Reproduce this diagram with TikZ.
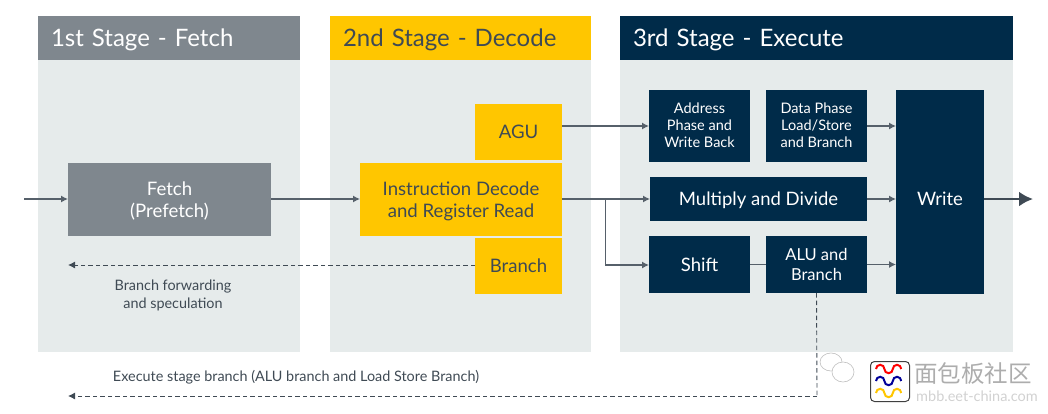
\documentclass[tikz,border=0pt]{standalone}
\usepackage{fontspec}
\setmainfont{Lato}
\newfontfamily\cjkwm{Noto Sans CJK SC}
\usetikzlibrary{arrows.meta,calc}
\definecolor{panelc}{HTML}{E6EBEB}
\definecolor{greyc}{HTML}{7F878E}
\definecolor{yellowc}{HTML}{FFC600}
\definecolor{navyc}{HTML}{002B49}
\definecolor{inkc}{HTML}{3F4A54}
\definecolor{linec}{HTML}{56606A}
\tikzset{
  x=1pt,y=-1pt,
  blockbase/.style={anchor=north west,inner sep=0pt,outer sep=0pt,align=center,text depth=0pt},
  panel/.style={blockbase,fill=panelc},
  head/.style={blockbase,text=white,font=\fontsize{24}{28}\selectfont,text height=21pt,text depth=5pt},
  greyblock/.style={blockbase,fill=greyc,text=white,text depth=-2pt,font=\fontsize{18.6}{22.5}\selectfont},
  yellowblock/.style={blockbase,fill=yellowc,text=inkc,text depth=-2pt,font=\fontsize{18.6}{22.5}\selectfont},
  navyblock/.style={blockbase,fill=navyc,text=white,font=\fontsize{18.5}{20}\selectfont},
  navysmall/.style={navyblock,text depth=2pt,font=\fontsize{14.5}{17.3}\selectfont},
  note/.style={inner sep=0pt,align=center,text=inkc,font=\fontsize{14.4}{17.3}\selectfont},
  flow/.style={draw=linec,line width=1.2pt,-{Latex[length=7pt,width=7pt]}},
  flowplain/.style={draw=linec,line width=1.2pt},
  back/.style={draw=inkc,line width=0.9pt,dash pattern=on 4.5pt off 3pt,-{Latex[length=7pt,width=7pt]}},
  backplain/.style={draw=inkc,line width=0.9pt,dash pattern=on 4.5pt off 3pt},
  outflow/.style={draw=inkc,line width=2.6pt,-{Latex[length=14pt,width=15pt]}},
}
\begin{document}
\begin{tikzpicture}
\useasboundingbox (0,0) rectangle (1048,413);
% panels
\node[panel,minimum width=262pt,minimum height=336pt] (p1) at (38,16) {};
\node[panel,minimum width=261pt,minimum height=336pt] (p2) at (330,16) {};
\node[panel,minimum width=393pt,minimum height=336pt] (p3) at (620,16) {};
% headers
\node[head,fill=greyc,minimum width=262pt,minimum height=44pt,text width=236pt,align=left] (h1) at (38,16) {1st Stage - Fetch};
\node[head,fill=yellowc,text=inkc,minimum width=261pt,minimum height=44pt,text width=235pt,align=left] (h2) at (330,16) {2nd Stage - Decode};
\node[head,fill=navyc,minimum width=393pt,minimum height=44pt,text width=367pt,align=left] (h3) at (620,16) {3rd Stage - Execute};
% blocks
\node[greyblock,minimum width=203pt,minimum height=73pt] (fetch) at (68,163) {Fetch\\(Prefetch)};
\node[yellowblock,minimum width=202pt,minimum height=73pt] (decode) at (360,163) {Instruction Decode\\and Register Read};
\node[yellowblock,minimum width=87pt,minimum height=56pt] (agu) at (475,104) {AGU};
\node[yellowblock,minimum width=87pt,minimum height=56pt] (branch) at (475,238) {Branch};
\node[navysmall,minimum width=101pt,minimum height=72pt] (addr) at (649,90) {Address\\Phase and\\Write Back};
\node[navysmall,minimum width=101pt,minimum height=72pt] (data) at (766,90) {Data Phase\\Load/Store\\and Branch};
\node[navyblock,minimum width=217pt,minimum height=44pt] (mul) at (650,177) {Multiply and Divide};
\node[navyblock,minimum width=101pt,minimum height=57pt] (shift) at (649,236) {Shift};
\node[navyblock,font=\fontsize{16.5}{19.5}\selectfont,minimum width=101pt,minimum height=57pt] (alu) at (766,236) {ALU and\\Branch};
\node[navyblock,text height=27pt,minimum width=88pt,minimum height=204pt] (write) at (896,90) {Write};
% labels
\node[note] (lab1) at (173,295.5) {Branch forwarding\\and speculation};
\node[note] (lab2) at (296,377) {Execute stage branch (ALU branch and Load Store Branch)};
% connector ends
\coordinate (inp) at (24,199);
\coordinate (out) at (1033,199);
\coordinate (fork) at (605.5,199);
\coordinate (t1) at (68,265);
\coordinate (t2) at (68,396);
\coordinate (bend) at (817,396);
% connectors
\draw[flow] (inp) -- (inp -| fetch.west);
\draw[flow] (inp -| fetch.east) -- (inp -| decode.west);
\draw[flow] (agu.east |- addr.west) -- (addr.west);
\draw[flow] (inp -| decode.east) -- (inp -| mul.west);
\draw[flow] (fork) |- ($(shift.west)+(0,0.5)$);
\draw[flow] (data.east) -- (data.east -| write.west);
\draw[flow] (inp -| mul.east) -- (inp -| write.west);
\draw[flow] (alu.east) -- (alu.east -| write.west);
\draw[flowplain] (shift.east) -- (alu.west);
\draw[outflow] (out -| write.east) -- (out);
\draw[back] (branch.west |- t1) -- (t1);
\draw[backplain] (alu.south) -- (bend);
\draw[back] (bend) -- (t2);
% watermark
\draw[black!25,line width=0.6pt,fill=white] (831,362) ellipse [x radius=11pt,y radius=9pt];
\draw[black!25,line width=0.6pt,fill=white] (843,372) ellipse [x radius=11pt,y radius=10pt];
\node[inner sep=0pt,text=black!32,font=\cjkwm\fontsize{23.5}{24}\selectfont,anchor=west] (wm1) at (914,374) {面包板社区};
\node[inner sep=0pt,text=black!18,font=\fontsize{14.5}{15}\selectfont,anchor=west] (wm2) at (916,396) {mbb.eet-china.com};
\node[anchor=north west,inner sep=0pt,minimum width=39pt,minimum height=40pt,draw=black!75,line width=1pt,rounded corners=4pt,fill=white] (wmlogo) at (870,361) {};
\foreach \yy/\cc in {369/red,381/blue!60!black,393/yellowc}{
  \draw[\cc,line width=2pt] (876,\yy) arc (180:360:4.2) arc (180:0:4.2) arc (180:360:4.2);
}
\end{tikzpicture}
\end{document}
